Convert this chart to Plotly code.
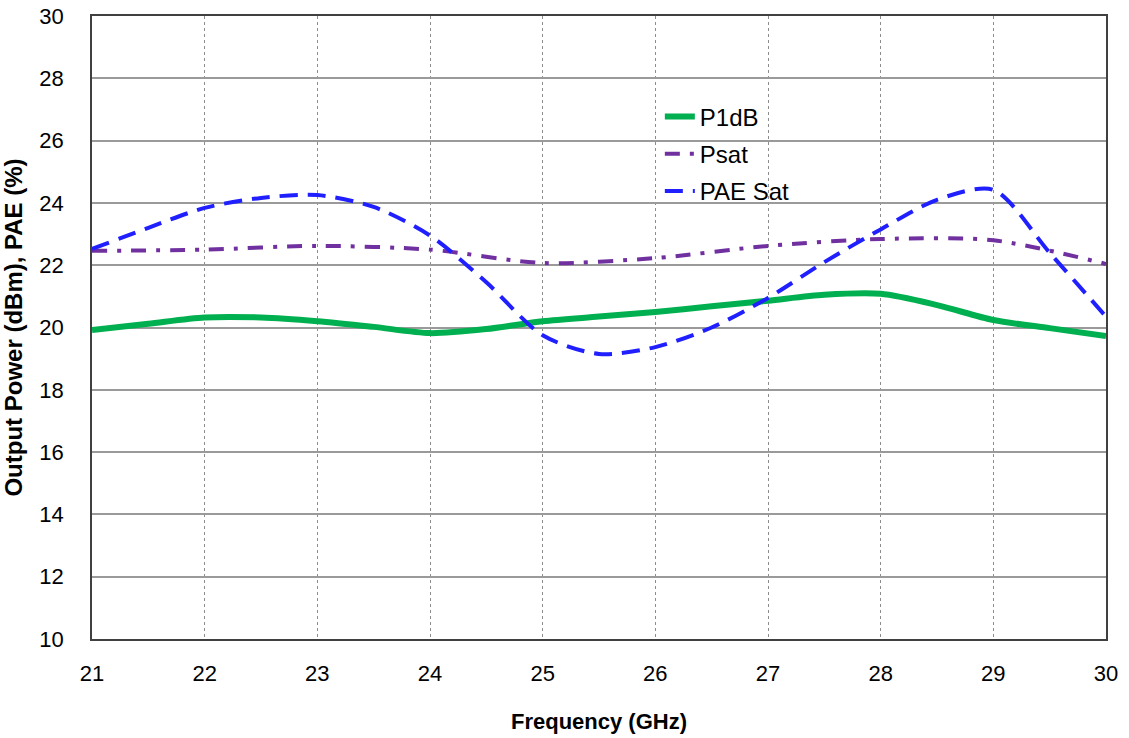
import plotly.graph_objects as go

# Frequency sweep (GHz)
freq = [21, 21.5, 22, 22.5, 23, 23.5, 24, 24.5, 25, 25.5, 26, 26.5, 27, 27.5, 28, 28.5, 29, 29.5, 30]

# Output power at 1 dB compression (dBm)
p1db = [19.92, 20.12, 20.32, 20.32, 20.2, 20.02, 19.82, 19.95, 20.2, 20.35, 20.5, 20.68, 20.86, 21.05, 21.08, 20.72, 20.24, 19.98, 19.73]

# Saturated output power (dBm)
psat_freq = [21, 22, 23, 24, 25, 26, 27, 28, 29, 30]
psat = [22.46, 22.5, 22.62, 22.5, 22.07, 22.23, 22.62, 22.84, 22.8, 22.04]

# Power-added efficiency at saturation (%)
pae_sat = [22.52, 23.2, 23.84, 24.16, 24.25, 23.87, 22.95, 21.45, 19.75, 19.15, 19.37, 20.0, 20.95, 22.1, 23.15, 24.1, 24.42, 22.4, 20.35]

font_family = "Liberation Sans, Arial, sans-serif"

fig = go.Figure()
fig.add_trace(go.Scatter(
    x=freq, y=p1db, name="P1dB", mode="lines", legendgroup="a",
    line=dict(color="#00b050", width=6, shape="spline", smoothing=0.8),
))
fig.add_trace(go.Scatter(
    x=psat_freq, y=psat, name="Psat", mode="lines", legendgroup="b",
    line=dict(color="#7030a0", width=4, shape="spline", smoothing=0.8,
              dash="15px,10px,4px,10px"),
))
fig.add_trace(go.Scatter(
    x=freq, y=pae_sat, name="PAE Sat", mode="lines", legendgroup="c",
    line=dict(color="#1f1fff", width=4, shape="spline", smoothing=0.8,
              dash="18px,10px"),
))

fig.update_layout(
    width=1129, height=738,
    margin=dict(l=92, r=23, t=16, b=99),
    paper_bgcolor="white", plot_bgcolor="white",
    font=dict(family=font_family, size=22, color="black"),
    showlegend=True,
    legend=dict(
        x=0.56, y=0.874, xanchor="left", yanchor="top",
        bgcolor="rgba(0,0,0,0)", tracegroupgap=3,
        font=dict(size=24),
    ),
    xaxis=dict(
        range=[21, 30], dtick=1, tick0=21, automargin=False,
        showgrid=True, gridcolor="#8c8c8c", griddash="dot", gridwidth=1,
        showline=True, linecolor="#404040", linewidth=1.5, mirror=True,
        ticks="", ticklabelstandoff=14, zeroline=False,
        title=dict(text="<b>Frequency (GHz)</b>", font=dict(size=22), standoff=28),
    ),
    yaxis=dict(
        range=[10, 30], dtick=2, tick0=10, automargin=False,
        showgrid=True, gridcolor="#9a9a9a", gridwidth=1.5,
        showline=True, linecolor="#404040", linewidth=1.5, mirror=True,
        ticks="", ticklabelstandoff=22, zeroline=False,
        title=dict(text="<b>Output Power (dBm), PAE (%)</b>", font=dict(size=24), standoff=14),
    ),
)

fig.write_html("out.html")
